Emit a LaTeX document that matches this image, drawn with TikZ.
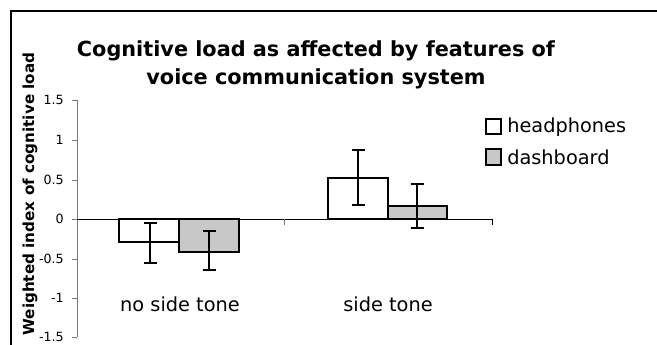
\documentclass[tikz,border=0pt]{standalone}
\usepackage{fontspec}
\setmainfont{DejaVu Sans}
\usepackage{tikz}

\definecolor{barfill}{RGB}{200,200,200}
\definecolor{axisgray}{RGB}{120,120,120}

\tikzset{
    bar/.style={draw=black, line width=1.1pt},
    errbar/.style={draw=black, line width=1pt},
    ticklab/.style={anchor=east, inner sep=0, font=\fontsize{9.5}{11}\selectfont},
    catlab/.style={anchor=base, inner sep=0, font=\fontsize{14.5}{17}\selectfont},
    leglab/.style={anchor=west, inner sep=0, font=\fontsize{14.5}{17}\selectfont},
    titlelab/.style={anchor=base, inner sep=0, font=\fontsize{15.6}{18}\selectfont\bfseries}
}

\begin{document}
\begin{tikzpicture}[x=0.75pt, y=-0.75pt]
    \useasboundingbox (0,0) rectangle (657,345);

    % frame
    \draw [line width=1.5pt] (11,350) -- (11,11) -- (662,11);

    % title
    \node (t1) [titlelab] at (316,57) {Cognitive load as affected by features of};
    \node (t2) [titlelab] at (316,85) {voice communication system};

    % axis
    \node (ylab) [rotate=90, inner sep=0, font=\fontsize{11.4}{13}\selectfont\bfseries] at (30,194) {Weighted index of cognitive load};
    \draw [axisgray, line width=0.6pt] (77,100) -- (77,337);
    \foreach \y/\lab in {100/1.5, 140/1, 180/0.5, 219/0, 259/-0.5, 298/-1, 337/-1.5} {
        \draw [axisgray, line width=0.6pt] (72,\y) -- (77,\y);
        \node (tick\y) [ticklab] at (64,\y) {\lab};
    }

    % bars
    \draw [bar, fill=white]   (119,219) rectangle (179,242);
    \draw [bar, fill=barfill] (179,219) rectangle (239,252);
    \draw [bar, fill=white]   (328,219) rectangle (388,178);
    \draw [bar, fill=barfill] (388,219) rectangle (447,206);

    % zero line
    \draw [line width=0.7pt] (77,219) -- (492,219);
    \draw [axisgray, line width=0.6pt] (284,219) -- (284,225);
    \draw [line width=0.6pt] (492,219) -- (492,225);

    % error bars
    \foreach \x/\a/\b in {150/223/263, 209/231/270, 358/150/205, 417/184/228} {
        \draw [errbar] (\x,\a) -- (\x,\b);
        \draw [errbar] (\x-6.5,\a) -- (\x+6.5,\a);
        \draw [errbar] (\x-6.5,\b) -- (\x+6.5,\b);
    }

    % categories
    \node (c1) [catlab] at (180,312) {no side tone};
    \node (c2) [catlab] at (388,312) {side tone};

    % legend
    \draw [line width=0.8pt, fill=white]   (486,119) rectangle (501,134);
    \draw [line width=0.8pt, fill=barfill] (486,149) rectangle (501,165);
    \node (l1) [leglab] at (507,127) {headphones};
    \node (l2) [leglab] at (507,157) {dashboard};
\end{tikzpicture}
\end{document}
